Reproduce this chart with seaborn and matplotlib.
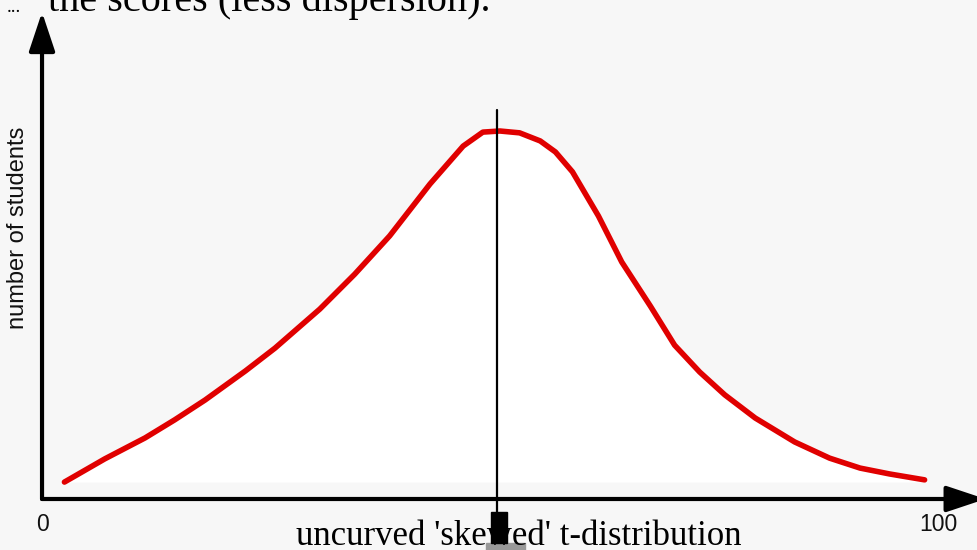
import numpy as np
import pandas as pd
import matplotlib.pyplot as plt
import seaborn as sns
from matplotlib.patches import Rectangle

# scores (0-100) and relative number of students
scores = [2.5, 7.0, 11.5, 14.8, 18.2, 22.7, 26.0, 31.0, 34.9, 38.8, 43.3, 47.0,
          49.2, 51.1, 53.3, 55.6, 57.3, 59.2, 62.1, 64.7, 67.9, 70.6, 73.4,
          76.2, 79.6, 84.0, 87.9, 91.3, 94.6, 98.5]
students = [4.6, 10.9, 16.6, 21.5, 26.9, 34.8, 41.0, 51.6, 61.1, 71.5, 85.6, 95.9,
            99.7, 100.0, 99.5, 97.3, 94.3, 88.9, 76.9, 64.4, 52.4, 41.8, 34.5,
            28.3, 22.0, 15.5, 11.1, 8.4, 6.8, 5.2]
median_score = 50.8
tick_labels = ["0", "100"]
tick_pos = [0, 100]

df = pd.DataFrame({"score": scores, "students": students})

sns.set_theme(style="white")
bg = "#f7f7f7"
fig = plt.figure(figsize=(9.78, 5.5), dpi=100, facecolor=bg)
ax = fig.add_axes([0, 0, 1, 1])
ax.set_facecolor(bg)
ax.set_xlim(-4.69, 104.46)
ax.set_ylim(-13.86, 135.6)
ax.axis("off")

# white area under the curve
ax.fill_between(df["score"], df["students"], students[0], color="white", lw=0, zorder=1)

sns.lineplot(data=df, x="score", y="students", color="#e00000", lw=4,
             solid_capstyle="round", ax=ax, zorder=3)

# axes with arrows
arrow = dict(arrowstyle="-|>,head_length=1.5,head_width=0.5", lw=3, color="black",
             mutation_scale=16, shrinkA=0, shrinkB=0)
ax.annotate("", xy=(0, 132.3), xytext=(0, 0), arrowprops=arrow, zorder=4)
ax.annotate("", xy=(105.3, 0), xytext=(0, 0), arrowprops=arrow, zorder=4,
            annotation_clip=False)

# median line and marker
ax.plot([median_score, median_score], [105.7, -3.5], color="black", lw=1.6, zorder=4)
ax.add_patch(Rectangle((50.1, -12.0), 1.8, 8.5, color="black", zorder=5))
ax.add_patch(Rectangle((49.55, -14.5), 4.35, 2.5, color="#999999", zorder=2))

for p, lab in zip(tick_pos, tick_labels):
    ax.text(p, -7.0, lab, ha="center", va="center", fontsize=16.5,
            family="Liberation Sans", color="#111111")

ax.text(-2.73, 73.6, "number of students", rotation=90, ha="center", va="center",
        fontsize=17, family="Liberation Sans", color="#111111")

ax.text(53.2, -10.2, "uncurved 'skewed' t-distribution", ha="center", va="center",
        fontsize=25, family="Liberation Serif", color="black", zorder=3)

ax.text(-3.9, 132.3, "...", ha="left", va="baseline", fontsize=14,
        family="Liberation Serif", color="black")
ax.text(0.65, 132.5, "the scores (less dispersion).", ha="left", va="baseline",
        fontsize=29, family="Liberation Serif", color="black")

fig.savefig("out.png", dpi=100, facecolor=bg)
